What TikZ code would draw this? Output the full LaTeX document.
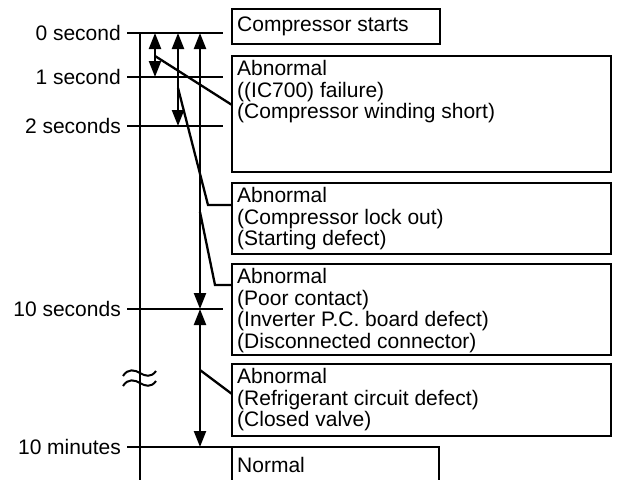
\documentclass[tikz,border=0pt]{standalone}
\usepackage{fontspec}
\setmainfont{Liberation Sans}
\usetikzlibrary{arrows.meta}
\begin{document}
\begin{tikzpicture}[x=1pt,y=-1pt,
  every node/.style={font=\fontsize{21}{21.5}\selectfont},
  box/.style={draw,line width=2.4pt,rectangle,inner sep=0pt,outer sep=0pt,anchor=north west},
  txt/.style={inner sep=0pt,anchor=north west,align=left},
  lbl/.style={inner sep=0pt,anchor=base east},
  ln/.style={line width=2.3pt},
  dbl/.style={line width=2.3pt,{Triangle[length=16pt,width=12pt]}-{Triangle[length=16pt,width=12pt]}}]
\useasboundingbox (0,0) rectangle (617,479);
% time axis
\draw[ln] (140,33) -- (140,481);
\foreach \y in {33,77,126,309}{
  \draw[ln] (127,\y) -- (223,\y);
}
\draw[ln] (127,447) -- (232,447);
% labels
\node[lbl] (l0) at (121,40.5) {0 second};
\node[lbl] (l1) at (121,84.5) {1 second};
\node[lbl] (l2) at (121,133.5) {2 seconds};
\node[lbl] (l3) at (121,316.5) {10 seconds};
\node[lbl] (l4) at (121,454.5) {10 minutes};
% boxes
\node[box,minimum width=208pt,minimum height=35pt] (b0) at (232,9) {};
\node[inner sep=0pt,anchor=west] (b0t) at (237,26.5) {Compressor starts};
\node[box,minimum width=379pt,minimum height=116pt] (b1) at (232,56) {};
\node[txt] (b1t) at (237,60.5) {Abnormal\\((IC700) failure)\\(Compressor winding short)};
\node[box,minimum width=379pt,minimum height=71pt] (b2) at (232,183) {};
\node[txt] (b2t) at (237,187.5) {Abnormal\\(Compressor lock out)\\(Starting defect)};
\node[box,minimum width=379pt,minimum height=91pt] (b3) at (232,264) {};
\node[txt] (b3t) at (237,268.5) {Abnormal\\(Poor contact)\\(Inverter P.C. board defect)\\(Disconnected connector)};
\node[box,minimum width=379pt,minimum height=72pt] (b4) at (232,364) {};
\node[txt] (b4t) at (237,368.5) {Abnormal\\(Refrigerant circuit defect)\\(Closed valve)};
\coordinate (n1) at (232,482);
\coordinate (n2) at (232,447);
\coordinate (n3) at (439,447);
\coordinate (n4) at (439,482);
\draw[line width=2.4pt] (n1) -- (n2) -- (n3) -- (n4);
\node[inner sep=0pt,anchor=base west] (b5t) at (237,472) {Normal};
% arrows
\coordinate (a1s) at (155,33); \coordinate (a1e) at (155,77);
\coordinate (a2s) at (178,33); \coordinate (a2e) at (178,126);
\coordinate (a3s) at (200,33); \coordinate (a3e) at (200,309);
\coordinate (a4e) at (200,447);
\draw[dbl] (a1s) -- (a1e);
\draw[dbl] (a2s) -- (a2e);
\draw[dbl] (a3s) -- (a3e);
\draw[dbl] (a3e) -- (a4e);
% connectors
\coordinate (c1) at (155,56);
\coordinate (c2) at (178,88);
\coordinate (c2k) at (208,205);
\coordinate (c3) at (200,212);
\coordinate (c3k) at (215,285);
\coordinate (c4) at (200,370);
\coordinate (c4e) at (232,394);
\draw[ln] (c1) -- (b1.west |- 0,105);
\draw[ln] (c2) -- (c2k) -- (b2.west |- c2k);
\draw[ln] (c3) -- (c3k) -- (b3.west |- c3k);
\draw[ln] (c4) -- (c4e);
% break marks
\draw[line width=2pt] (123,376) .. controls (128,368) and (135,370) .. (140,373) .. controls (145,376) and (151,378) .. (156,371);
\draw[line width=2pt] (123,386) .. controls (128,378) and (135,380) .. (140,383) .. controls (145,386) and (151,388) .. (156,381);
\end{tikzpicture}
\end{document}
